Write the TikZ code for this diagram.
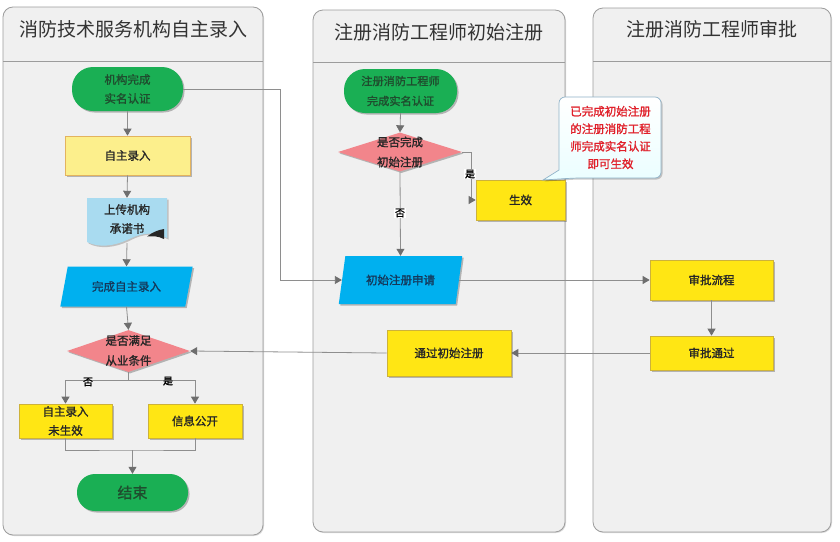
\documentclass[tikz,border=0pt]{standalone}
\usepackage{fontspec}
\setmainfont{Noto Sans CJK SC}
\newfontfamily\nodefont{Noto Sans CJK SC}[FakeBold=1.3]
\usetikzlibrary{shapes.geometric,arrows.meta,shadows}
\definecolor{lanefill}{HTML}{F0F0F0}
\definecolor{laneline}{HTML}{9C9C9C}
\definecolor{paleyel}{HTML}{FCEF8C}
\definecolor{paleyelline}{HTML}{E3B35E}
\definecolor{brtyel}{HTML}{FFE614}
\definecolor{brtyelline}{HTML}{CDB23A}
\definecolor{cyanfill}{HTML}{00B0EF}
\definecolor{pinkfill}{HTML}{F2858B}
\definecolor{greenfill}{HTML}{1AAF54}
\definecolor{greentext}{HTML}{1F4D2E}
\definecolor{bluetext}{HTML}{15385A}
\definecolor{docfill}{HTML}{A9DBF0}
\definecolor{connline}{HTML}{8E8E8E}
\definecolor{tipcol}{HTML}{6E6E6E}
\definecolor{redtext}{HTML}{E0202A}
\definecolor{calloutline}{HTML}{8FB2C8}
\definecolor{titletext}{HTML}{333333}
\begin{document}
\begin{tikzpicture}[x=1pt,y=-1pt,
  lane/.style={draw=laneline,fill=lanefill,line width=0.8pt,rounded corners=10pt},
  lanetitle/.style={font=\fontsize{19}{22}\selectfont,text=titletext},
  txt/.style={font=\nodefont\fontsize{11.5}{19}\selectfont,align=center,inner sep=0pt},
  shad/.style={drop shadow={shadow xshift=1.5pt,shadow yshift=-1.5pt,opacity=0.25,fill=black}},
  term/.style={txt,shad,fill=greenfill,draw=none,rounded corners=21pt,text=greentext},
  paleproc/.style={txt,shad,fill=paleyel,draw=paleyelline,line width=0.7pt,text=black!85},
  brtproc/.style={txt,shad,fill=brtyel,draw=brtyelline,line width=0.7pt,text=black!85},
  iobox/.style={txt,shad,trapezium,trapezium stretches=true,trapezium left angle=68,trapezium right angle=112,fill=cyanfill,draw=none,text=bluetext},
  decision/.style={diamond,shad,inner sep=0pt,fill=pinkfill,draw=none},
  conn/.style={draw=connline,line width=0.8pt,-{Triangle[width=8pt,length=7pt,color=tipcol]}},
  plainconn/.style={draw=connline,line width=0.8pt},
  brlabel/.style={font=\nodefont\fontsize{10}{12}\selectfont,inner sep=1pt,text=black},
]
\useasboundingbox (0,0) rectangle (840,541);
\fill[white] (0,0) rectangle (840,541);

% lanes
\draw[lane,drop shadow={shadow xshift=1pt,shadow yshift=-1pt,opacity=0.15,fill=black}] (3,7) rectangle (263,535);
\draw[laneline,line width=0.8pt] (3,61) -- (263,61);
\draw[lane,drop shadow={shadow xshift=1pt,shadow yshift=-1pt,opacity=0.15,fill=black}] (313,10) rectangle (565,532);
\draw[laneline,line width=0.8pt] (313,62) -- (565,62);
\draw[lane,drop shadow={shadow xshift=1pt,shadow yshift=-1pt,opacity=0.15,fill=black}] (593,8) rectangle (831,532);
\draw[laneline,line width=0.8pt] (593,61) -- (831,61);

\node[lanetitle] (t1) at (133,29) {消防技术服务机构自主录入};
\node[lanetitle] (t2) at (439,32) {注册消防工程师初始注册};
\node[lanetitle] (t3) at (712,29) {注册消防工程师审批};

% lane 1
\node[term,minimum width=111pt,minimum height=44pt] (s1) at (127.5,89) {机构完成\\实名认证};
\node[paleproc,minimum width=125pt,minimum height=39pt] (b1) at (127.5,155.5) {自主录入};
% document shape
\node[txt,minimum width=80pt,minimum height=47pt] (doc) at (127,221.5) {};
\fill[black,opacity=0.2] (88.5,199.5) -- (168.5,199.5) -- (168.5,239.5) .. controls (150,230) and (137,237) .. (128,241.5) .. controls (115,247.5) and (100,249.5) .. (88.5,243.5) -- cycle;
\fill[docfill] (87,198) -- (167,198) -- (167,238) .. controls (149,229) and (136,236) .. (127,240) .. controls (114,246) and (99,248) .. (87,242) -- cycle;
\fill[black!85] (147,236.5) .. controls (153,232) and (158,230) .. (164,229) -- (164,239) .. controls (158,236) and (153,236) .. (147,236.5) -- cycle;
\node[txt,text=black!85] (doctext) at (127,219) {上传机构\\承诺书};
\node[iobox,minimum width=133pt,minimum height=40pt] (par1) at (126.5,286.5) {完成自主录入};
\node[decision,minimum width=123pt,minimum height=42pt] (dia1) at (128.5,351) {};
\node[txt,text=black!85,font=\nodefont\fontsize{11.5}{20}\selectfont] (dia1text) at (128.5,350.5) {是否满足\\从业条件};
\node[brtproc,minimum width=93pt,minimum height=34pt] (b2) at (65.5,421) {自主录入\\未生效};
\node[brtproc,minimum width=94pt,minimum height=34pt] (b3) at (195,421) {信息公开};
\node[term,minimum width=111pt,minimum height=37pt,rounded corners=18pt,font=\nodefont\fontsize{15}{18}\selectfont] (e1) at (132.5,492.5) {结束};

\coordinate (br1) at (128.5,380);
\coordinate (m1) at (132.5,450);
\draw[conn] (s1.south) -- (b1.north);
\draw[conn] (b1.south) -- (doc.north);
\draw[conn] (127,243) -- (par1.north);
\draw[conn] (par1.south) -- (dia1.north);
\draw[plainconn] (dia1.south) -- (br1);
\draw[conn] (br1) -| (b2.north);
\draw[conn] (br1) -| (b3.north);
\draw[plainconn] (b2.south) |- (m1) -| (b3.south);
\draw[conn] (m1) -- (e1.north);
\node[brlabel] (no1) at (88,382) {否};
\node[brlabel] (yes1) at (168,381) {是};

% lane 2
\node[term,minimum width=113pt,minimum height=44pt,font=\nodefont\fontsize{11.2}{20}\selectfont] (s2) at (400.5,91) {注册消防工程师\\完成实名认证};
\node[decision,minimum width=124pt,minimum height=39pt] (dia2) at (400,152) {};
\node[txt,text=black!85,font=\nodefont\fontsize{11.5}{20}\selectfont] (dia2text) at (400,152) {是否完成\\初始注册};
\node[brtproc,minimum width=89pt,minimum height=40pt] (sx) at (520.5,200) {生效};
\node[iobox,minimum width=124pt,minimum height=48pt,trapezium left angle=69,trapezium right angle=111] (par2) at (400.5,280) {初始注册申请};
\node[brtproc,minimum width=124pt,minimum height=46pt] (b4) at (449,353) {通过初始注册};

\coordinate (j2) at (471,152);
\coordinate (j1) at (280,89);
\draw[conn] (s2.south) -- (dia2.north);
\draw[conn] (dia2.east) -- (j2) |- (sx.west);
\draw[conn] (dia2.south) -- (par2.north);
\node[brlabel,fill=white] (yes2) at (470,174) {是};
\node[brlabel,fill=white] (no2) at (400,213) {否};
\draw[conn] (s1.east) -- (j1) |- (par2.west);

% lane 3
\node[brtproc,minimum width=123pt,minimum height=40pt] (ap1) at (711.5,280) {审批流程};
\node[brtproc,minimum width=123pt,minimum height=34pt] (ap2) at (711.5,353) {审批通过};

\draw[conn] (par2.east) -- (ap1.west);
\draw[conn] (ap1.south) -- (ap2.north);
\draw[conn] (ap2.west) -- (b4.east);
\draw[conn] (b4.west) -- (dia1.east);

% callout
\draw[draw=calloutline,line width=0.7pt,top color=white,bottom color=blue!4!cyan!8!white,
  drop shadow={shadow xshift=1.5pt,shadow yshift=-1.5pt,opacity=0.2,fill=black}]
  (559,170) [rounded corners=6pt] -- (559,97) -- (661,97) -- (661,178) -- (575,178) [sharp corners] -- (543,180) -- cycle;
\node[txt,text=redtext,font=\nodefont\fontsize{11.5}{17.5}\selectfont] (note) at (610.5,137.5) {已完成初始注册\\的注册消防工程\\师完成实名认证\\即可生效};
\end{tikzpicture}
\end{document}
